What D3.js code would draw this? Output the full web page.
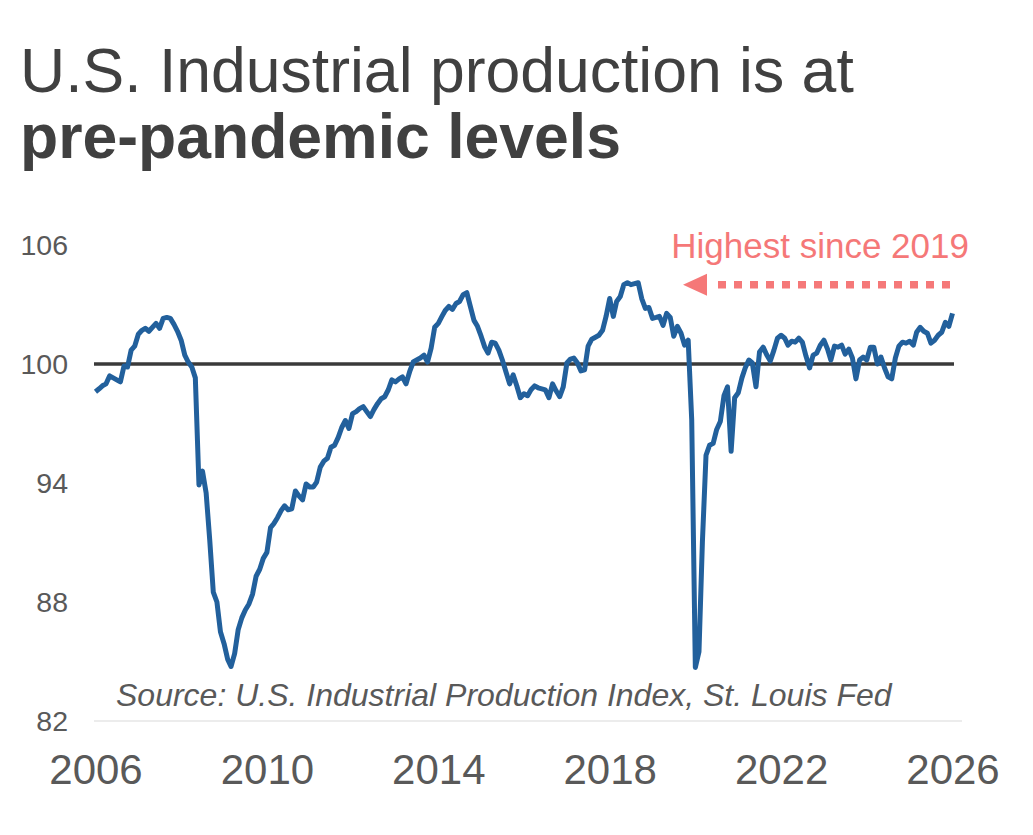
<!DOCTYPE html>
<html>
<head>
<meta charset="utf-8">
<script src="https://cdn.jsdelivr.net/npm/d3@7"></script>
<style>
  html, body { margin: 0; padding: 0; background: #ffffff; }
  svg { display: block; font-family: "Liberation Sans", Arial, Helvetica, sans-serif; }
</style>
</head>
<body>
<div id="chart"></div>
<script>
// ---- Data ----
const titleLine1 = "U.S. Industrial production is at";
const titleLine2 = "pre-pandemic levels";
const sourceText = "Source: U.S. Industrial Production Index, St. Louis Fed";
const annotationText = "Highest since 2019";

const startMonth = new Date(2006, 0, 1);
// Monthly index values (2017 = 100), Jan 2006 onward
const indexValues = [
  98.6, 98.75, 98.9, 99.0, 99.4, 99.3, 99.2, 99.1, 99.9, 99.85, 100.7, 100.9,
  101.5, 101.7, 101.8, 101.65, 101.85, 102.05, 101.8, 102.3, 102.35, 102.3, 102.0, 101.65,
  101.2, 100.45, 100.1, 99.85, 99.3, 93.9, 94.6, 93.5, 91.1, 88.5, 88.0, 86.5,
  85.9, 85.1, 84.75, 85.4, 86.6, 87.2, 87.6, 87.9, 88.4, 89.3, 89.65, 90.2,
  90.5, 91.75, 91.95, 92.25, 92.6, 92.85, 92.65, 92.7, 93.6, 93.35, 93.15, 93.95,
  93.8, 93.8, 94.05, 94.8, 95.1, 95.25, 95.8, 95.9, 96.3, 96.8, 97.15, 96.75,
  97.5, 97.6, 97.75, 97.85, 97.6, 97.35, 97.7, 98.0, 98.25, 98.35, 98.7, 99.2,
  99.1, 99.25, 99.35, 99.0, 99.6, 100.1, 100.2, 100.3, 100.45, 100.1, 100.8, 101.85,
  102.05, 102.4, 102.7, 102.9, 102.75, 103.05, 103.15, 103.5, 103.6, 102.9, 102.2, 101.9,
  101.4, 100.85, 100.55, 101.1, 101.05, 100.7, 100.2, 99.6, 99.0, 99.45, 98.9, 98.3,
  98.5, 98.4, 98.7, 98.9, 98.8, 98.75, 98.7, 98.3, 99.0, 98.65, 98.35, 98.85,
  100.05, 100.25, 100.3, 100.05, 99.65, 99.7, 100.9, 101.25, 101.35, 101.45, 101.7, 102.4,
  103.3, 102.4, 103.15, 103.4, 104.0, 104.1, 104.0, 104.05, 104.1, 103.3, 102.8, 102.85,
  102.3, 102.35, 102.4, 101.95, 102.55, 102.35, 101.4, 101.9, 101.55, 100.95, 101.2, 97.2,
  84.7, 85.5, 91.0, 95.4, 95.9, 96.0, 96.7, 97.1, 98.4, 98.85, 95.6, 98.3,
  98.55, 99.3, 99.8, 100.2, 100.05, 98.85, 100.6, 100.85, 100.45, 100.15, 100.7, 101.3,
  101.45, 101.3, 100.95, 101.15, 101.1, 101.3, 101.1, 100.4, 99.8, 100.45, 100.55, 100.95,
  101.2, 100.75, 100.2, 100.9, 100.85, 100.95, 100.5, 100.75, 100.3, 99.25, 100.2, 100.35,
  100.2, 100.85, 100.85, 100.0, 100.35, 99.8, 99.35, 99.25, 100.3, 100.9, 101.1, 101.05,
  101.15, 100.95, 101.6, 101.85, 101.65, 101.55, 101.05, 101.2, 101.45, 101.6, 102.1, 101.9,
  102.55
];

const yTickValues = [82, 88, 94, 100, 106];
const xTickYears = [2006, 2010, 2014, 2018, 2022, 2026];
const referenceValue = 100;
const annotationValue = 104;

// ---- Layout ----
const W = 1033, H = 835;
const plotLeft = 94, plotRight = 962;

const svg = d3.select("#chart").append("svg")
  .attr("width", W).attr("height", H);

svg.append("rect").attr("width", W).attr("height", H).attr("fill", "#ffffff");

const x = d3.scaleTime()
  .domain([new Date(2006, 0, 1), new Date(2026, 0, 1)])
  .range([95.5, 952.5]);

const y = d3.scaleLinear()
  .domain([82, 106])
  .range([721, 245]);

const series = indexValues.map((v, i) => ({ date: d3.timeMonth.offset(startMonth, i), value: v }));

// Title
const title = svg.append("g").attr("fill", "#404040").attr("font-size", 62.5);
title.append("text").attr("x", 20).attr("y", 92).text(titleLine1);
title.append("text").attr("x", 20).attr("y", 158).attr("font-weight", "bold").text(titleLine2);

// Baseline (light grey) at bottom of the value axis
svg.append("line")
  .attr("x1", plotLeft).attr("x2", plotRight)
  .attr("y1", y(82)).attr("y2", y(82))
  .attr("stroke", "#d9d9d9").attr("stroke-width", 1);

// Y axis
const yAxis = svg.append("g")
  .attr("transform", `translate(${plotLeft},0)`)
  .call(d3.axisLeft(y).tickValues(yTickValues).tickSize(0).tickPadding(26).tickFormat(d3.format("d")));
yAxis.select(".domain").remove();
yAxis.selectAll("text")
  .attr("font-size", 28.5)
  .attr("fill", "#595959")
  .attr("font-family", "'Liberation Sans', Arial, sans-serif");

// X axis
const xAxis = svg.append("g")
  .attr("transform", `translate(0,${y(82)})`)
  .call(d3.axisBottom(x)
    .tickValues(xTickYears.map(yr => new Date(yr, 0, 1)))
    .tickSize(0).tickPadding(33)
    .tickFormat(d3.timeFormat("%Y")));
xAxis.select(".domain").remove();
xAxis.selectAll("text")
  .attr("font-size", 42)
  .attr("fill", "#595959")
  .attr("font-family", "'Liberation Sans', Arial, sans-serif");

// Reference line at 100
svg.append("line")
  .attr("x1", plotLeft).attr("x2", 954)
  .attr("y1", y(referenceValue)).attr("y2", y(referenceValue))
  .attr("stroke", "#3a3a3a").attr("stroke-width", 3.5);

// Data line
const line = d3.line()
  .x(d => x(d.date))
  .y(d => y(d.value));

svg.append("path")
  .datum(series)
  .attr("d", line)
  .attr("fill", "none")
  .attr("stroke", "#22609c")
  .attr("stroke-width", 5)
  .attr("stroke-linejoin", "round");

// Source text
svg.append("text")
  .attr("x", 116).attr("y", 706)
  .attr("font-size", 32)
  .attr("font-style", "italic")
  .attr("fill", "#595959")
  .text(sourceText);

// Annotation
const salmon = "#f57878";
svg.append("text")
  .attr("x", 969).attr("y", 258)
  .attr("text-anchor", "end")
  .attr("font-size", 35)
  .attr("fill", salmon)
  .text(annotationText);

const ay = y(annotationValue);
svg.append("line")
  .attr("x1", 950).attr("x2", 710)
  .attr("y1", ay).attr("y2", ay)
  .attr("stroke", salmon)
  .attr("stroke-width", 7.5)
  .attr("stroke-dasharray", "8,8");

svg.append("path")
  .attr("d", `M683,${ay} L707,${ay - 11} L707,${ay + 11} Z`)
  .attr("fill", salmon);
</script>
</body>
</html>
